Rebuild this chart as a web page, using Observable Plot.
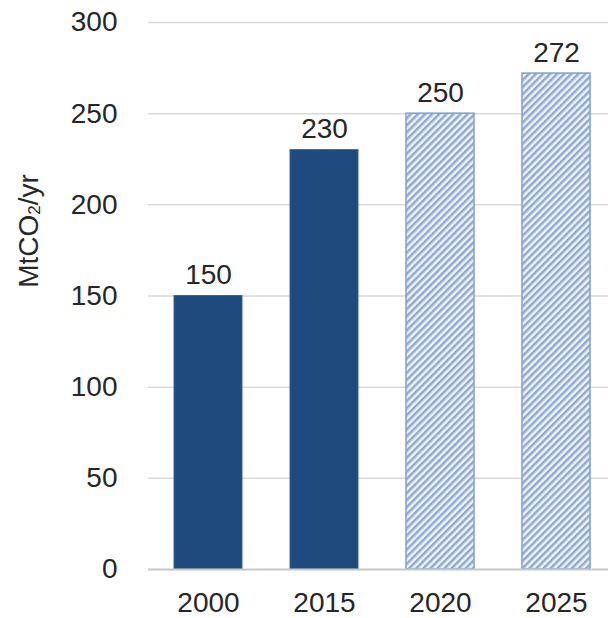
<!DOCTYPE html>
<html>
<head>
<meta charset="utf-8">
<script src="https://cdn.jsdelivr.net/npm/d3@7"></script>
<script src="https://cdn.jsdelivr.net/npm/@observablehq/plot@0.6"></script>
<style>
  html, body { margin: 0; padding: 0; background: #fff; }
  #chart svg { display: block; }
</style>
</head>
<body>
<div id="chart"></div>
<script>
const years = ["2000", "2015", "2020", "2025"];
const values = [150, 230, 250, 272];
const projected = [false, false, true, true];
const yTicks = [0, 50, 100, 150, 200, 250, 300];
const yLabel = "MtCO";
const yLabelSub = "2";
const yLabelTail = "/yr";

const data = years.map((y, i) => ({year: y, value: values[i], projected: projected[i]}));
const FONT = "'Liberation Sans', Arial, sans-serif";

const chart = Plot.plot({
  width: 608,
  height: 618,
  marginLeft: 148,
  marginRight: 0,
  marginTop: 22,
  marginBottom: 49,
  style: {fontFamily: FONT, fontSize: "28px", color: "#262626", background: "#fff"},
  x: {domain: years, range: [149, 615], paddingInner: 0.41, paddingOuter: 0.205, label: null},
  y: {domain: [0, 300], range: [569, 22], label: null},
  marks: [
    Plot.ruleY(yTicks.filter(d => d > 0), {stroke: "#d9d9d9", strokeWidth: 1.5}),
    Plot.barY(data.filter(d => !d.projected), {x: "year", y: "value", fill: "#1f4a7e", stroke: "#3a6296", strokeWidth: 1}),
    Plot.barY(data.filter(d => d.projected), {x: "year", y: "value", fill: "url(#hatch)", stroke: "#7fa0d2", strokeWidth: 1.5}),
    Plot.ruleY([0], {stroke: "#c8c8c8", strokeWidth: 2}),
    Plot.text(data, {x: "year", y: "value", text: d => String(d.value), dy: -21, fill: "#262626", fontSize: 28}),
    Plot.axisY(yTicks, {tickSize: 0, tickPadding: 31, fontSize: 28, fill: "#262626", label: null}),
    Plot.axisX({tickSize: 0, tickPadding: 23, fontSize: 28, fill: "#262626", label: null})
  ]
});

document.getElementById("chart").appendChild(chart);

const svg = d3.select(chart);
const defs = svg.insert("defs", ":first-child");
const pat = defs.append("pattern")
  .attr("id", "hatch")
  .attr("patternUnits", "userSpaceOnUse")
  .attr("width", 5)
  .attr("height", 5)
  .attr("patternTransform", "rotate(45)");
pat.append("rect").attr("width", 5).attr("height", 5).attr("fill", "#f1f4f9");
pat.append("rect").attr("width", 2.5).attr("height", 5).attr("fill", "#8ea9d6");

const lab = svg.append("text")
  .attr("transform", "translate(28,231) rotate(-90)")
  .attr("text-anchor", "middle")
  .attr("dominant-baseline", "central")
  .attr("font-family", FONT)
  .attr("font-size", 28)
  .attr("fill", "#262626");
lab.append("tspan").text(yLabel);
lab.append("tspan").attr("font-size", 17).attr("dy", 6).text(yLabelSub);
lab.append("tspan").attr("dy", -6).text(yLabelTail);
</script>
</body>
</html>
